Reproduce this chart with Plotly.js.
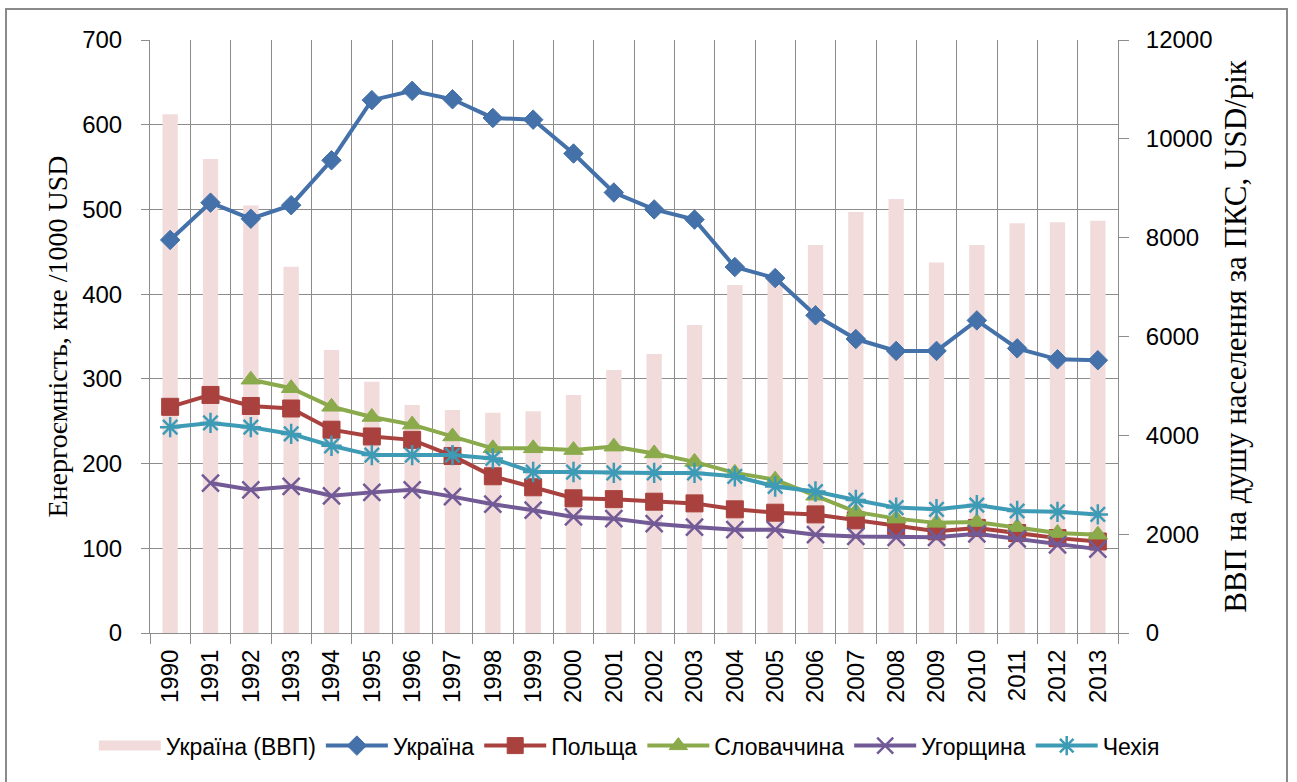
<!DOCTYPE html>
<html>
<head>
<meta charset="utf-8">
<script src="https://cdn.plot.ly/plotly-3.0.1.min.js"></script>
<style>
  html, body { margin: 0; padding: 0; background: #fff; }
  #wrap { position: relative; width: 1297px; height: 782px; }
  #chart { position: absolute; left: 0; top: 0; width: 1297px; height: 782px; }
  #frame { position: absolute; left: 5px; top: 8px; width: 1283px; height: 780px; border: 2px solid #8a8a8a; pointer-events: none; box-sizing: border-box; }
</style>
</head>
<body>
<div id="wrap">
  <div id="chart"></div>
  <div id="frame"></div>
</div>
<script>
// ---- data ----
const years = ['1990','1991','1992','1993','1994','1995','1996','1997','1998','1999','2000','2001',
               '2002','2003','2004','2005','2006','2007','2008','2009','2010','2011','2012','2013'];
// GDP per capita (PPP), USD/year — right axis
const ukraineGdp = [10500, 9590, 8650, 7410, 5725, 5085, 4613, 4512, 4458, 4485, 4816, 5322,
                    5645, 6232, 7040, 7150, 7850, 8520, 8780, 7500, 7850, 8290, 8310, 8340];
// Energy intensity, toe / 1000 USD — left axis
const ukraine  = [464, 508, 489, 505, 558, 629, 640, 630, 608, 606, 566, 520,
                  500, 488, 432, 419, 375, 347, 333, 333, 369, 336, 323, 322];
const poland   = [267, 281, 268, 265, 240, 232, 228, 209, 185, 172, 159, 158,
                  155, 153, 146, 142, 140, 133, 126, 120, 124, 118, 112, 108];
const slovakia = [null, null, 299, 289, 267, 255, 246, 232, 218, 218, 216, 220,
                  212, 202, 189, 181, 162, 143, 135, 130, 131, 125, 118, 116];
const hungary  = [null, 177, 169, 173, 162, 166, 169, 161, 152, 145, 137, 135,
                  129, 125, 122, 122, 116, 114, 113, 113, 117, 111, 104, 99];
const czechia  = [243, 248, 243, 235, 221, 210, 210, 210, 206, 190, 190, 189,
                  189, 189, 185, 173, 167, 157, 148, 146, 151, 144, 143, 140];

const names = ['Україна (ВВП)', 'Україна', 'Польща', 'Словаччина', 'Угорщина', 'Чехія'];
const leftTitle = 'Енергоємність, кне /1000 USD';
const rightTitle = 'ВВП на душу населення за ПКС, USD/рік';

const SANS = 'Liberation Sans, Arial, sans-serif';
const SERIF = 'Liberation Serif, Times New Roman, serif';
const GRID = '#8c8c8c';
const BAR = '#F2DCDB';

function lineTrace(name, y, color, symbol, size, mline) {
  return {
    type: 'scatter', mode: 'lines+markers', name: name, x: years, y: y, yaxis: 'y2',
    line: {color: color, width: 4},
    marker: {symbol: symbol, size: size, color: color, line: {color: color, width: mline}},
    connectgaps: false
  };
}

const traces = [
  {type: 'bar', name: names[0], x: years, y: ukraineGdp, yaxis: 'y',
   marker: {color: BAR}, width: 0.38, showlegend: false},
  // legend-only entry giving the bar series a wide swatch like the original
  {type: 'scatter', mode: 'lines', name: names[0], x: [years[0]], y: [null], yaxis: 'y2',
   line: {color: BAR, width: 14}, hoverinfo: 'skip'},
  lineTrace(names[1], ukraine,  '#4471A9', 'diamond', 15, 1),
  lineTrace(names[2], poland,   '#A9423E', 'square', 17, 1),
  lineTrace(names[3], slovakia, '#8AAA4B', 'triangle-up', 17, 1),
  lineTrace(names[4], hungary,  '#725A96', 'x-thin-open', 17, 2.5),
  lineTrace(names[5], czechia,  '#3D9BB6', 'asterisk-open', 17, 2.5)
];

const layout = {
  width: 1297, height: 782,
  margin: {l: 150, r: 179, t: 40, b: 149},
  paper_bgcolor: '#fff', plot_bgcolor: '#fff',
  showlegend: true,
  font: {family: SANS, color: '#000'},
  xaxis: {
    type: 'category', tickson: 'boundaries',
    showgrid: true, gridcolor: GRID, gridwidth: 1,
    ticks: 'outside', ticklen: 10, tickcolor: GRID,
    showline: true, linecolor: GRID, linewidth: 1,
    tickangle: -90, tickfont: {family: SANS, size: 24, color: '#000'},
    ticklabelstandoff: 6,
    range: [-0.5, 23.5]
  },
  yaxis: {
    side: 'right', range: [0, 12000], dtick: 2000, tick0: 0, tickformat: 'd',
    showgrid: false, zeroline: false,
    ticks: 'outside', ticklen: 10, tickcolor: GRID,
    showline: true, linecolor: GRID, linewidth: 1,
    tickfont: {family: SANS, size: 24, color: '#000'},
    ticklabelstandoff: 12,
    title: {text: rightTitle, font: {family: SERIF, size: 31, color: '#000'}, standoff: 12}
  },
  yaxis2: {
    overlaying: 'y', side: 'left', range: [0, 700], dtick: 100, tick0: 0,
    showgrid: true, gridcolor: GRID, gridwidth: 1, zeroline: false,
    ticks: 'outside', ticklen: 8, tickcolor: GRID,
    showline: true, linecolor: GRID, linewidth: 1,
    tickfont: {family: SANS, size: 24, color: '#000'},
    ticklabelstandoff: 14,
    title: {text: leftTitle, font: {family: SERIF, size: 28, color: '#000'}, standoff: 6}
  },
  legend: {
    orientation: 'h', x: -0.058, xanchor: 'left', y: -0.19, yanchor: 'middle',
    font: {family: SANS, size: 23, color: '#000'},
    itemwidth: 62,
    bgcolor: 'rgba(0,0,0,0)', traceorder: 'normal'
  }
};

Plotly.newPlot('chart', traces, layout, {displayModeBar: false, staticPlot: true});
</script>
</body>
</html>
